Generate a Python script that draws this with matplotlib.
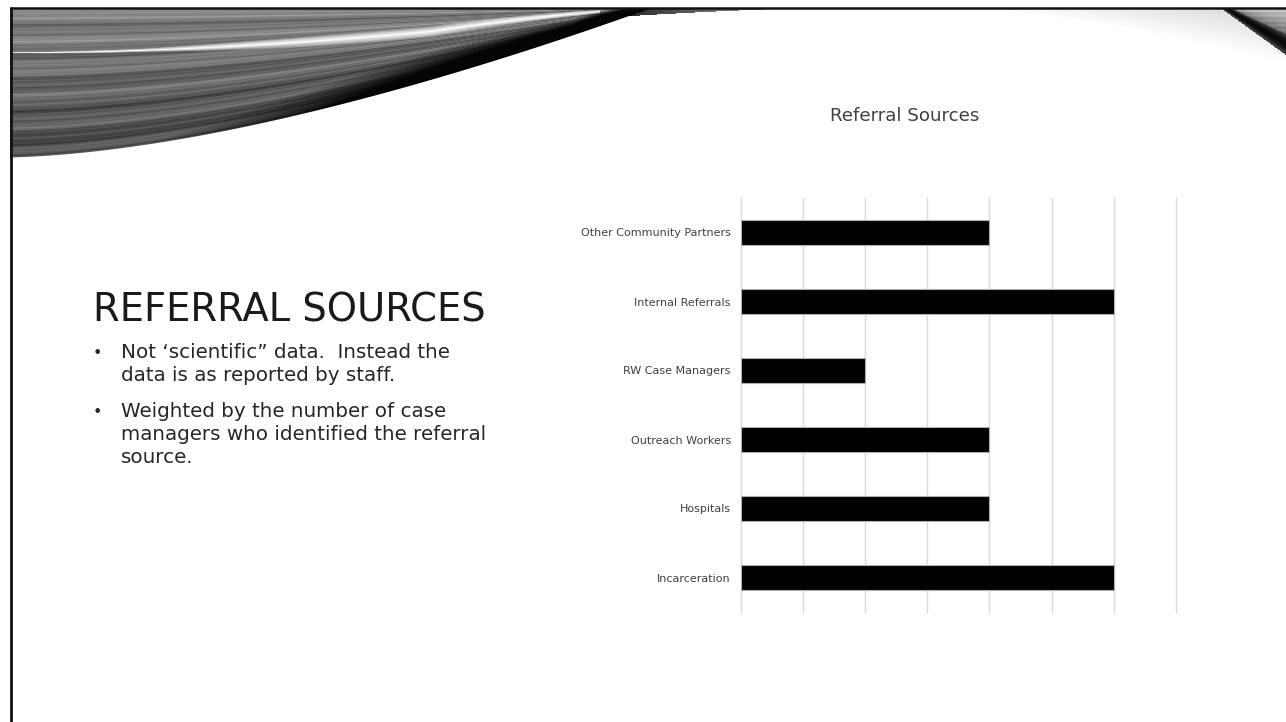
import numpy as np
import matplotlib
matplotlib.use("Agg")
import matplotlib.pyplot as plt

# ---------------- data ----------------
categories = ["Incarceration", "Hospitals", "Outreach Workers",
              "RW Case Managers", "Internal Referrals", "Other Community Partners"]
values = [6, 4, 4, 2, 6, 4]
x_ticks = [0, 1, 2, 3, 4, 5, 6, 7]
chart_title = "Referral Sources"
slide_title = "REFERRAL SOURCES"
bullet_texts = ["Not \u2018scientific\u201d data.  Instead the\ndata is as reported by staff.",
                "Weighted by the number of case\nmanagers who identified the referral\nsource."]

W, H = 1286, 722
fig = plt.figure(figsize=(W / 100, H / 100), dpi=100)
fig.patch.set_facecolor("white")

# background axes in pixel coordinates
bg = fig.add_axes([0, 0, 1, 1])
bg.set_xlim(0, W)
bg.set_ylim(H, 0)
bg.axis("off")

# ---------------- decorative header ----------------
HH = 175
yy, xx = np.mgrid[0:HH, 0:W].astype(float)
yy += 0.5
xx += 0.5
gray = np.ones((HH, W))
alpha = np.zeros((HH, W))

# light arc at top right
xa = np.clip((xx - 950) / 336, 0, 1)
yarc = 8 + 55 * xa ** 1.5
inL = (xx >= 950) & (yy >= 8) & (yy <= yarc)
gL = 1 - 0.16 * xa * (1 - (yy - 8) / np.maximum(yarc - 8, 1e-6))
gray[inL] = gL[inL]
alpha[inL] = 1

# top-right dark wedge
xr = xx - 1222
yline = 8 + 0.72 * xr
t = 4 + 0.25 * xr
inB = (xx >= 1222) & (yy >= 8) & (yy >= yline - t) & (yy <= yline + 1)
cen = yline - t / 2
gB = 0.03 + 0.25 * np.clip(np.abs(yy - cen) / np.maximum(t / 2, 1e-6), 0, 1) ** 2
gray[inB] = gB[inB]
alpha[inB] = 1
inU = (xx >= 1222) & (yy >= 8) & (yy < yline - t)
fu = (yline - t - yy) / np.maximum(yline - t - 8, 1e-6)
gU = 0.45 + 0.35 * fu + 0.04 * np.sin(yy * 1.3)
gray[inU] = gU[inU]
alpha[inU] = 1

# thin tail along top border
tail_y = 8 + 10 * np.clip((830 - xx) / 230, 0, 1) ** 1.5
inT = (xx >= 600) & (xx <= 830) & (yy >= 8) & (yy <= tail_y)
gT = 0.08 + 0.7 * np.clip((xx - 600) / 230, 0, 1)
gray[inT] = gT[inT]
alpha[inT] = 1

# left streaked swoosh: lower edge is a cubic bezier
tt = np.linspace(0, 1, 400)
P = np.array([[10, 157], [200, 152], [450, 80], [650, 8]], dtype=float)
bez = ((1 - tt) ** 3)[:, None] * P[0] + (3 * (1 - tt) ** 2 * tt)[:, None] * P[1] \
    + (3 * (1 - tt) * tt ** 2)[:, None] * P[2] + (tt ** 3)[:, None] * P[3]
ybot = np.interp(xx, bez[:, 0], bez[:, 1])
inA = (xx >= 10) & (xx <= 650) & (yy >= 8) & (yy <= ybot + 1)
f = np.clip((yy - 8) / np.maximum(ybot - 8, 1e-6), 0, 1)
g0 = (0.52 - 0.22 * f + 0.06 * np.sin(2 * np.pi * 5.3 * f + 0.4)
      + 0.045 * np.sin(2 * np.pi * 13.7 * f + 1.3) + 0.03 * np.sin(2 * np.pi * 31 * f + 0.7)
      + 0.02 * np.sin(2 * np.pi * 57 * f + 2.1))
fb = np.interp(xx, [100, 300, 430, 500, 574, 650], [1.05, 0.8, 0.6, 0.5, 0.38, -0.2])
dark = np.clip((f - fb) / 0.25, 0, 1)
gA = g0 * (1 - dark) + 0.02 * dark
fc = np.interp(xx, [10, 430, 600], [0.30, 0.33, 0.20])
hw = np.interp(xx, [10, 150, 430, 600], [0.004, 0.014, 0.08, 0.10])
wst = np.clip(1 - np.abs(f - fc) / hw, 0, 1) ** 0.7
wst = wst * (xx <= 600)
gA = gA * (1 - wst) + wst
fade = np.clip((xx - 570) / 70, 0, 1) * (f < fb)
gA = gA * (1 - fade) + fade * 0.8
aA = np.clip(ybot - yy + 1.0, 0, 1)
gray[inA] = gA[inA]
alpha[inA] = np.maximum(alpha[inA], aA[inA])

rgba = np.zeros((HH, W, 4))
rgba[..., 0] = gray
rgba[..., 1] = gray
rgba[..., 2] = gray
rgba[..., 3] = alpha
bg.imshow(rgba, extent=(0, W, HH, 0), interpolation="bilinear", zorder=1)

# border lines
bg.plot([10.5, 10.5], [7, H], color="#111111", lw=2.0, zorder=3, solid_capstyle="butt")
bg.plot([9.5, W], [7.8, 7.8], color="#111111", lw=1.8, zorder=3, solid_capstyle="butt")

# ---------------- slide text ----------------
fig.canvas.draw()
renderer = fig.canvas.get_renderer()


def fit_text(x, y, s, target_w, size, **kw):
    tx = bg.text(x, y, s, fontsize=size, **kw)
    w = tx.get_window_extent(renderer).width
    tx.set_fontsize(size * target_w / w)
    return tx


fit_text(93, 322, slide_title, 394, 24, family=["DejaVu Sans"],
         color="#1a1a1a", va="baseline", ha="left", zorder=4)

bullet_font = ["DejaVu Sans"]
t1 = fit_text(121, 358, "Not \u2018scientific\u201d data.  Instead the", 339, 13,
              family=bullet_font, color="#262626", va="baseline", zorder=4)
bsize = t1.get_fontsize() * 0.97
t1.remove()
line_gap = 23
bullet_y = [358, 417]
for by, txt in zip(bullet_y, bullet_texts):
    bg.text(93, by, "\u2022", fontsize=bsize * 0.8, family=bullet_font, color="#262626",
            va="baseline", zorder=4)
    for k, line in enumerate(txt.split("\n")):
        bg.text(121, by + k * line_gap, line, fontsize=bsize, family=bullet_font,
                color="#262626", va="baseline", zorder=4)

# ---------------- chart ----------------
x0, x1 = 740.5, 1176
y_top, y_bottom = 198, 612
ax = fig.add_axes([x0 / W, 1 - y_bottom / H, (x1 - x0) / W, (y_bottom - y_top) / H])
ax.set_zorder(5)
ax.patch.set_alpha(0)
ypos = np.arange(len(categories))
ax.barh(ypos, values, height=0.36, color="black", edgecolor="#b0b0b0", linewidth=0.8, zorder=3)
ax.set_xlim(x_ticks[0], x_ticks[-1])
ax.set_ylim(-0.5, len(categories) - 0.5)
ax.set_xticks(x_ticks)
ax.grid(axis="x", color="#d9d9d9", linewidth=1.0, zorder=0)
for gl in ax.get_xgridlines():
    gl.set_clip_on(False)
ax.set_axisbelow(True)
for sp in ax.spines.values():
    sp.set_visible(False)
ax.tick_params(axis="x", length=0, labelbottom=False)
ax.tick_params(axis="y", length=0, pad=7, labelsize=8, labelcolor="#404040")
ax.set_yticks(ypos)
ax.set_yticklabels(categories, family="DejaVu Sans")

fit_text(905, 116, chart_title, 150, 13, family=["DejaVu Sans"],
         color="#404040", ha="center", va="center", zorder=4)

fig.savefig("out.png", dpi=100, facecolor="white")
